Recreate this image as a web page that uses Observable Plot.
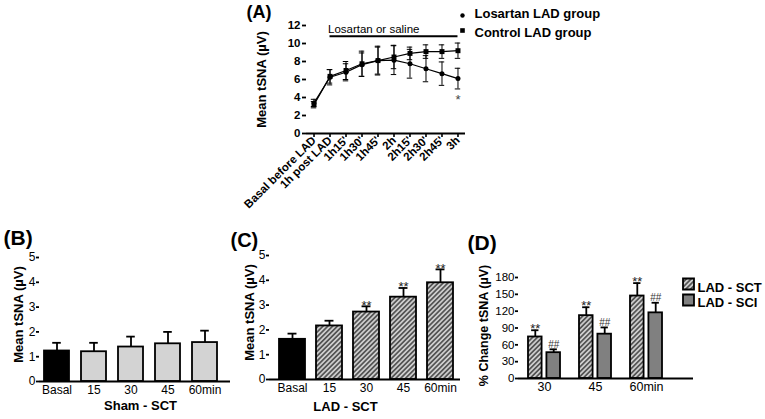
<!DOCTYPE html>
<html><head><meta charset="utf-8">
<script src="https://cdn.jsdelivr.net/npm/d3@7"></script>
<script src="https://cdn.jsdelivr.net/npm/@observablehq/plot@0.6"></script>
<style>
html,body{margin:0;padding:0;background:#fff;}
#root{position:relative;width:765px;height:419px;overflow:hidden;font-family:"Liberation Sans",Arial,sans-serif;}
#root > svg{position:absolute;}
</style></head><body>
<svg width="0" height="0" style="position:absolute">
<defs>
<pattern id="hatch" patternUnits="userSpaceOnUse" width="3.4" height="3.4" patternTransform="rotate(45)">
<rect width="3.4" height="3.4" fill="#cdcdcd"/>
<line x1="1.7" y1="0" x2="1.7" y2="3.4" stroke="#3a3a3a" stroke-width="1.4"/>
</pattern>
</defs></svg>
<div id="root"></div>
<script>
// ---------- Panel A data ----------
const timeLabels = ["Basal before LAD","1h post LAD","1h15'","1h30'","1h45'","2h","2h15'","2h30'","2h45'","3h"];
const losartanMean = [3.4, 6.25, 6.8, 7.65, 8.1, 8.15, 7.75, 7.2, 6.65, 6.1];
const losartanErr  = [0.4, 0.85, 0.95, 1.3, 1.5, 1.6, 1.6, 1.45, 1.3, 1.15];
const controlMean  = [3.2, 6.35, 7.0, 7.75, 8.1, 8.5, 8.9, 9.1, 9.1, 9.2];
const controlErr   = [0.35, 0.75, 1.0, 1.4, 1.6, 1.3, 0.7, 0.75, 0.75, 0.85];
const seriesNamesA = ["Losartan LAD group", "Control LAD group"];
const treatmentLabel = "Losartan or saline";
const treatmentFrom = 1, treatmentTo = 9, treatmentLevel = 10.8;
const sigA = [{i: 9, label: "*"}];

// ---------- Panel B data ----------
const barLabels = ["Basal","15","30","45","60min"];
const shamMean = [1.23, 1.2, 1.39, 1.52, 1.57];
const shamErr  = [0.33, 0.36, 0.42, 0.48, 0.48];

// ---------- Panel C data ----------
const ladMean = [1.62, 2.16, 2.72, 3.32, 3.9];
const ladErr  = [0.23, 0.21, 0.23, 0.37, 0.54];
const ladSig  = ["", "", "**", "**", "**"];

// ---------- Panel D data ----------
const dLabels = ["30","45","60min"];
const sctMean = [74, 112, 147];
const sctErr  = [12, 15, 23];
const sciMean = [46, 79, 117];
const sciErr  = [6, 12, 18];
const sctSig  = ["**","**","**"];
const sciSig  = ["##","##","##"];
const dSeries = ["LAD - SCT", "LAD - SCI"];

const root = document.getElementById("root");
const FONT = "'Liberation Sans', Arial, Helvetica, sans-serif";
const baseStyle = {fontFamily: FONT, background: "transparent", overflow: "visible", color: "black"};
function place(svg, left, top) { svg.style.left = left + "px"; svg.style.top = top + "px"; root.appendChild(svg); }
const fmt = d => String(d);
// frame-anchored label helper
function label(str, frameAnchor, opts) {
  return Plot.text([str], {frameAnchor, text: d => d, textAnchor: "middle", lineAnchor: "middle", fontWeight: "bold", ...opts});
}

// ================= Panel A =================
const losRows = timeLabels.map((t, i) => ({i, t, m: losartanMean[i], e: losartanErr[i]}));
const ctlRows = timeLabels.map((t, i) => ({i, t, m: controlMean[i], e: controlErr[i]}));
const allA = losRows.concat(ctlRows);
const sigRows = sigA.map(s => ({...s, y: losartanMean[s.i] - losartanErr[s.i]}));

const plotA = Plot.plot({
  width: 545, height: 200, marginLeft: 86, marginRight: 300, marginTop: 25, marginBottom: 67,
  style: baseStyle,
  x: {domain: [-0.47, 9.47], label: null},
  y: {domain: [0, 12], label: null},
  marks: [
    Plot.axisX({ticks: d3.range(timeLabels.length), tickFormat: i => timeLabels[i], tickRotate: -45, tickSize: 4, tickPadding: 1, fontSize: 11.5, fontWeight: "bold", strokeWidth: 1.6, label: null}),
    Plot.axisY({ticks: d3.range(0, 13, 2), tickFormat: fmt, tickSize: 4, tickPadding: 2, fontSize: 11.5, fontWeight: "bold", strokeWidth: 1.8, line: true, label: null}),
    Plot.ruleY([0], {strokeWidth: 2}),
    Plot.ruleX(allA, {x: "i", y1: d => d.m - d.e, y2: d => d.m + d.e, strokeWidth: 1}),
    Plot.ruleY(allA, {y: d => d.m + d.e, x1: d => d.i - 0.17, x2: d => d.i + 0.17, strokeWidth: 1}),
    Plot.ruleY(allA, {y: d => d.m - d.e, x1: d => d.i - 0.17, x2: d => d.i + 0.17, strokeWidth: 1}),
    Plot.line(losRows, {x: "i", y: "m", strokeWidth: 1.2}),
    Plot.line(ctlRows, {x: "i", y: "m", strokeWidth: 1.2}),
    Plot.dot(losRows, {x: "i", y: "m", r: 2.5, fill: "black"}),
    Plot.dot(ctlRows, {x: "i", y: "m", r: 2.8, symbol: "square", fill: "black"}),
    Plot.ruleY([treatmentLevel], {x1: treatmentFrom, x2: treatmentTo, strokeWidth: 2}),
    Plot.text([treatmentLabel], {x: treatmentFrom, y: treatmentLevel, text: d => d, textAnchor: "start", lineAnchor: "middle", dx: -2, dy: -7, fontSize: 11.5}),
    Plot.text(sigRows, {x: "i", y: "y", text: "label", lineAnchor: "middle", dy: 11, fontSize: 13, fill: "#444"}),
    // legend
    Plot.dot([0], {frameAnchor: "top-right", dx: -3, dy: -10, r: 2.2, fill: "black"}),
    Plot.dot([0], {frameAnchor: "top-right", dx: -3, dy: 5, r: 2.6, symbol: "square", fill: "black"}),
    label(seriesNamesA[0], "top-right", {dx: 9, dy: -12, textAnchor: "start", fontSize: 13}),
    label(seriesNamesA[1], "top-right", {dx: 9, dy: 7, textAnchor: "start", fontSize: 13}),
    // labels
    label("(A)", "top-left", {dx: -60, dy: -13, textAnchor: "start", fontSize: 18}),
    label("Mean tSNA (µV)", "left", {rotate: -90, dx: -45, fontSize: 13})
  ]
});
place(plotA, 220, 0);

// ================= Panel B =================
const shamRows = barLabels.map((label, i) => ({label, mean: shamMean[i], err: shamErr[i]}));
const bStep = (218 - 43) / (5 - 0.32), bBw = bStep * 0.68, capB = 9;
const plotB = Plot.plot({
  width: 240, height: 199, marginLeft: 39, marginRight: 10, marginTop: 37, marginBottom: 38,
  style: baseStyle,
  x: {type: "band", domain: barLabels, range: [43, 218], paddingInner: 0.32, paddingOuter: 0, label: null},
  y: {domain: [0, 5], label: null},
  marks: [
    Plot.axisX({tickSize: 0, tickPadding: 4, fontSize: 12, label: null}),
    Plot.axisY({ticks: d3.range(0, 6), tickFormat: fmt, tickSize: 3, tickPadding: 1, fontSize: 12, strokeWidth: 1.8, line: true, label: null}),
    Plot.ruleX(shamRows, {x: "label", y1: "mean", y2: d => d.mean + d.err, strokeWidth: 1.8}),
    Plot.tickY(shamRows, {x: "label", y: d => d.mean + d.err, insetLeft: (bBw - capB) / 2, insetRight: (bBw - capB) / 2, strokeWidth: 1.8}),
    Plot.barY(shamRows, {x: "label", y: "mean", fill: "black", stroke: "black", strokeWidth: 1.8, filter: d => d.label === "Basal"}),
    Plot.barY(shamRows, {x: "label", y: "mean", fill: "#d3d3d3", stroke: "black", strokeWidth: 1.8, filter: d => d.label !== "Basal"}),
    Plot.ruleY([0], {strokeWidth: 2}),
    label("(B)", "top-left", {dx: -36, dy: -19, textAnchor: "start", fontSize: 21}),
    label("Mean tSNA (µV)", "left", {rotate: -90, dx: -21, dy: -5, fontSize: 13}),
    label("Sham - SCT", "bottom-left", {dx: 101, dy: 24, fontSize: 13})
  ]
});
place(plotB, 0, 220);

// ================= Panel C =================
const ladRows = barLabels.map((label, i) => ({label, mean: ladMean[i], err: ladErr[i], sig: ladSig[i]}));
const cStep = (233 - 58) / (5 - 0.3), cBw = cStep * 0.7, capC = 9;
const plotC = Plot.plot({
  width: 245, height: 199, marginLeft: 49, marginRight: 5, marginTop: 35, marginBottom: 40,
  style: baseStyle,
  x: {type: "band", domain: barLabels, range: [58, 233], paddingInner: 0.3, paddingOuter: 0, label: null},
  y: {domain: [0, 5], label: null},
  marks: [
    Plot.axisX({tickSize: 0, tickPadding: 4, fontSize: 12, label: null}),
    Plot.axisY({ticks: d3.range(0, 6), tickFormat: fmt, tickSize: 3, tickPadding: 1, fontSize: 12, strokeWidth: 1.8, line: true, label: null}),
    Plot.ruleX(ladRows, {x: "label", y1: "mean", y2: d => d.mean + d.err, strokeWidth: 1.8}),
    Plot.tickY(ladRows, {x: "label", y: d => d.mean + d.err, insetLeft: (cBw - capC) / 2, insetRight: (cBw - capC) / 2, strokeWidth: 1.8}),
    Plot.barY(ladRows, {x: "label", y: "mean", fill: "black", stroke: "black", strokeWidth: 1.8, filter: d => d.label === "Basal"}),
    Plot.barY(ladRows, {x: "label", y: "mean", fill: "url(#hatch)", stroke: "black", strokeWidth: 1.8, filter: d => d.label !== "Basal"}),
    Plot.text(ladRows, {x: "label", y: d => d.mean + d.err, text: "sig", lineAnchor: "middle", dy: -1, fontSize: 13, fill: "#222"}),
    Plot.ruleY([0], {strokeWidth: 2}),
    label("(C)", "top-left", {dx: -39, dy: -15, textAnchor: "start", fontSize: 20}),
    label("Mean tSNA (µV)", "left", {rotate: -90, dx: -20, dy: -5, fontSize: 13}),
    label("LAD - SCT", "bottom-left", {dx: 76, dy: 27, fontSize: 13})
  ]
});
place(plotC, 220, 220);

// ================= Panel D =================
const sctRows = dLabels.map((label, i) => ({label, mean: sctMean[i], err: sctErr[i], sig: sctSig[i]}));
const sciRows = dLabels.map((label, i) => ({label, mean: sciMean[i], err: sciErr[i], sig: sciSig[i]}));
const dStep = (201.7 - 67.7) / (3 - 0.38), dBw = dStep * 0.62, barW = 13.3, capD = 7;
const off = dBw / 2 - barW / 2;
const plotD = Plot.plot({
  width: 305, height: 199, marginLeft: 58, marginRight: 72, marginTop: 57, marginBottom: 41,
  style: baseStyle,
  x: {type: "band", domain: dLabels, range: [67.7, 201.7], paddingInner: 0.38, paddingOuter: 0, label: null},
  y: {domain: [0, 180], label: null},
  marks: [
    Plot.axisX({tickSize: 0, tickPadding: 4, fontSize: 12.5, label: null}),
    Plot.axisY({ticks: d3.range(0, 181, 30), tickFormat: fmt, tickSize: 3, tickPadding: 1, fontSize: 11.5, strokeWidth: 1.8, line: true, label: null}),
    Plot.ruleX(sctRows, {x: "label", y1: "mean", y2: d => d.mean + d.err, dx: -off, strokeWidth: 1.8}),
    Plot.ruleX(sciRows, {x: "label", y1: "mean", y2: d => d.mean + d.err, dx: off, strokeWidth: 1.8}),
    Plot.tickY(sctRows, {x: "label", y: d => d.mean + d.err, insetLeft: barW / 2 - capD / 2, insetRight: dBw - barW / 2 - capD / 2, strokeWidth: 1.8}),
    Plot.tickY(sciRows, {x: "label", y: d => d.mean + d.err, insetLeft: dBw - barW / 2 - capD / 2, insetRight: barW / 2 - capD / 2, strokeWidth: 1.8}),
    Plot.barY(sctRows, {x: "label", y: "mean", insetRight: dBw - barW, fill: "url(#hatch)", stroke: "black", strokeWidth: 1.8}),
    Plot.barY(sciRows, {x: "label", y: "mean", insetLeft: dBw - barW, fill: "#808080", stroke: "black", strokeWidth: 1.8}),
    Plot.text(sctRows, {x: "label", y: d => d.mean + d.err, text: "sig", lineAnchor: "middle", dx: -off, dy: -1, fontSize: 13, fill: "#222"}),
    Plot.text(sciRows, {x: "label", y: d => d.mean + d.err, text: "sig", lineAnchor: "middle", dx: off, dy: -5, fontSize: 10, fill: "#333"}),
    Plot.ruleY([0], {strokeWidth: 2}),
    // legend
    Plot.dot([dSeries[0]], {frameAnchor: "top-right", dx: -5, dy: 6.5, symbol: "square", r: 6.2, fill: "url(#hatch)", stroke: "black", strokeWidth: 1.8}),
    Plot.dot([dSeries[1]], {frameAnchor: "top-right", dx: -5, dy: 22.5, symbol: "square", r: 6.2, fill: "#808080", stroke: "black", strokeWidth: 1.8}),
    label(dSeries[0], "top-right", {dx: 4, dy: 10, textAnchor: "start", fontSize: 13}),
    label(dSeries[1], "top-right", {dx: 4, dy: 25, textAnchor: "start", fontSize: 13}),
    label("(D)", "top-left", {dx: -51, dy: -34, textAnchor: "start", fontSize: 21}),
    label("% Change tSNA (µV)", "left", {rotate: -90, dx: -35, dy: -2.5, fontSize: 12.5})
  ]
});
place(plotD, 460, 220);
</script>
</body></html>
